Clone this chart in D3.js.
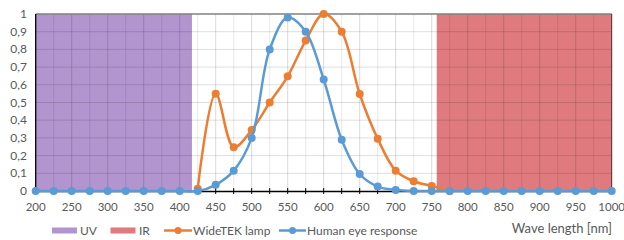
<!DOCTYPE html>
<html><head><meta charset="utf-8">
<script src="https://cdn.jsdelivr.net/npm/d3@7"></script>
<style>body{margin:0;background:#fff}svg{display:block}text{font-family:Lato,"Open Sans",sans-serif;fill:#595959}</style>
</head><body>
<script>
const wavelengths = d3.range(200, 1001, 25);
const eyeValues = [0,0,0,0,0,0,0,0,0,0, 0.035,0.115,0.30,0.80,0.98,0.90,0.63,0.29,0.096,0.025,0.006, 0,0,0,0,0,0,0,0,0,0,0,0];
const lampWavelengths = [425,450,475,500,525,550,575,600,625,650,675,700,725,750,775];
const lampValues = [0.013,0.55,0.247,0.345,0.50,0.648,0.85,1.0,0.90,0.548,0.295,0.115,0.055,0.028,0];
const uvRange = [200, 417];
const irRange = [757, 1000];
const yTicks = [0,0.1,0.2,0.3,0.4,0.5,0.6,0.7,0.8,0.9,1];
const xTicks = d3.range(200, 1001, 50);
const legendItems = ["UV","IR","WideTEK lamp","Human eye response"];
const axisTitle = "Wave length [nm]";

const W=624,H=240;
const svg=d3.select("body").append("svg").attr("width",W).attr("height",H);
const x=d3.scaleLinear().domain([200,1000]).range([35.7,611.7]);
const y=d3.scaleLinear().domain([0,1]).range([191,14]);
const cUV="#b294ce", cIR="#df7b7e", cLamp="#ed7d31", cEye="#5b9bd5";

// regions
svg.append("rect").attr("x",x(uvRange[0])).attr("y",y(1)).attr("width",x(uvRange[1])-x(uvRange[0])).attr("height",y(0)-y(1)).attr("fill",cUV);
svg.append("rect").attr("x",x(irRange[0])).attr("y",y(1)).attr("width",x(irRange[1])-x(irRange[0])).attr("height",y(0)-y(1)).attr("fill",cIR);

// grid
const g=svg.append("g");
g.selectAll("line.v").data(d3.range(225,1000,25)).join("line")
 .attr("x1",d=>x(d)).attr("x2",d=>x(d)).attr("y1",y(1)).attr("y2",y(0))
 .attr("stroke","#000").attr("stroke-opacity",d=>d%50===0?0.15:0.09).attr("stroke-width",1);
g.selectAll("line.h").data(yTicks.slice(1,-1)).join("line")
 .attr("x1",x(200)).attr("x2",x(1000)).attr("y1",d=>y(d)).attr("y2",d=>y(d))
 .attr("stroke","#000").attr("stroke-opacity",0.13).attr("stroke-width",1);
// top border
svg.append("line").attr("x1",x(200)).attr("x2",x(1000)).attr("y1",y(1)).attr("y2",y(1)).attr("stroke","#808080").attr("stroke-width",1.5);
// right edge
svg.append("line").attr("x1",x(1000)).attr("x2",x(1000)).attr("y1",y(1)).attr("y2",y(0)).attr("stroke","#5a2020").attr("stroke-width",1);

// x axis
const xa=d3.axisBottom(x).tickValues(d3.range(200,1001,25)).tickSize(0).tickFormat("");
svg.append("g").attr("transform",`translate(0,${y(0)})`).call(xa).call(s=>s.select(".domain").attr("stroke","#000").attr("stroke-width",1.3));
svg.append("g").selectAll("line").data(d3.range(225,1000,25)).join("line")
 .attr("x1",d=>x(d)).attr("x2",d=>x(d)).attr("y1",y(0)-3).attr("y2",y(0)+3).attr("stroke","#000").attr("stroke-width",1);
svg.append("g").selectAll("text").data(xTicks).join("text")
 .attr("x",d=>x(d)).attr("y",211).attr("text-anchor","middle").attr("font-size",11.5).text(d=>d);
// y axis
svg.append("line").attr("x1",x(200)).attr("x2",x(200)).attr("y1",y(1)).attr("y2",y(0)).attr("stroke","#000").attr("stroke-width",1.3);
svg.append("g").selectAll("text").data(yTicks).join("text")
 .attr("x",27).attr("y",d=>y(d)+4).attr("text-anchor","end").attr("font-size",12)
 .text(d=>String(d).replace(".",","));

// lines
const lineGen=d3.line().curve(d3.curveCatmullRom.alpha(0.5)).x(d=>x(d[0])).y(d=>y(d[1]));
const lampData=lampWavelengths.map((w,i)=>[w,lampValues[i]]);
const eyeData=wavelengths.map((w,i)=>[w,eyeValues[i]]);
svg.append("path").datum(lampData).attr("d",lineGen).attr("fill","none").attr("stroke",cLamp).attr("stroke-width",2.5);
svg.append("g").selectAll("circle").data(lampData).join("circle").attr("cx",d=>x(d[0])).attr("cy",d=>y(d[1])).attr("r",4).attr("fill",cLamp);
svg.append("path").datum(eyeData).attr("d",lineGen).attr("fill","none").attr("stroke",cEye).attr("stroke-width",2.5);
svg.append("g").selectAll("circle").data(eyeData).join("circle").attr("cx",d=>x(d[0])).attr("cy",d=>y(d[1])).attr("r",4).attr("fill",cEye);

// legend
const ly=230.5;
const leg=svg.append("g");
leg.append("rect").attr("x",52).attr("y",ly-3).attr("width",25).attr("height",6).attr("fill",cUV);
leg.append("text").attr("x",80).attr("y",ly+4).attr("font-size",12).text(legendItems[0]);
leg.append("rect").attr("x",110.5).attr("y",ly-3).attr("width",25).attr("height",6).attr("fill",cIR);
leg.append("text").attr("x",139).attr("y",ly+4).attr("font-size",12).text(legendItems[1]);
leg.append("line").attr("x1",164).attr("x2",192).attr("y1",ly).attr("y2",ly).attr("stroke",cLamp).attr("stroke-width",2.5);
leg.append("circle").attr("cx",178).attr("cy",ly).attr("r",3.5).attr("fill",cLamp);
leg.append("text").attr("x",193).attr("y",ly+4).attr("font-size",12).text(legendItems[2]);
leg.append("line").attr("x1",279).attr("x2",306).attr("y1",ly).attr("y2",ly).attr("stroke",cEye).attr("stroke-width",2.5);
leg.append("circle").attr("cx",292.5).attr("cy",ly).attr("r",3.5).attr("fill",cEye);
leg.append("text").attr("x",307).attr("y",ly+4).attr("font-size",12).text(legendItems[3]);
svg.append("text").attr("x",612).attr("y",233).attr("text-anchor","end").attr("font-size",13).text(axisTitle);
</script>
</body></html>
